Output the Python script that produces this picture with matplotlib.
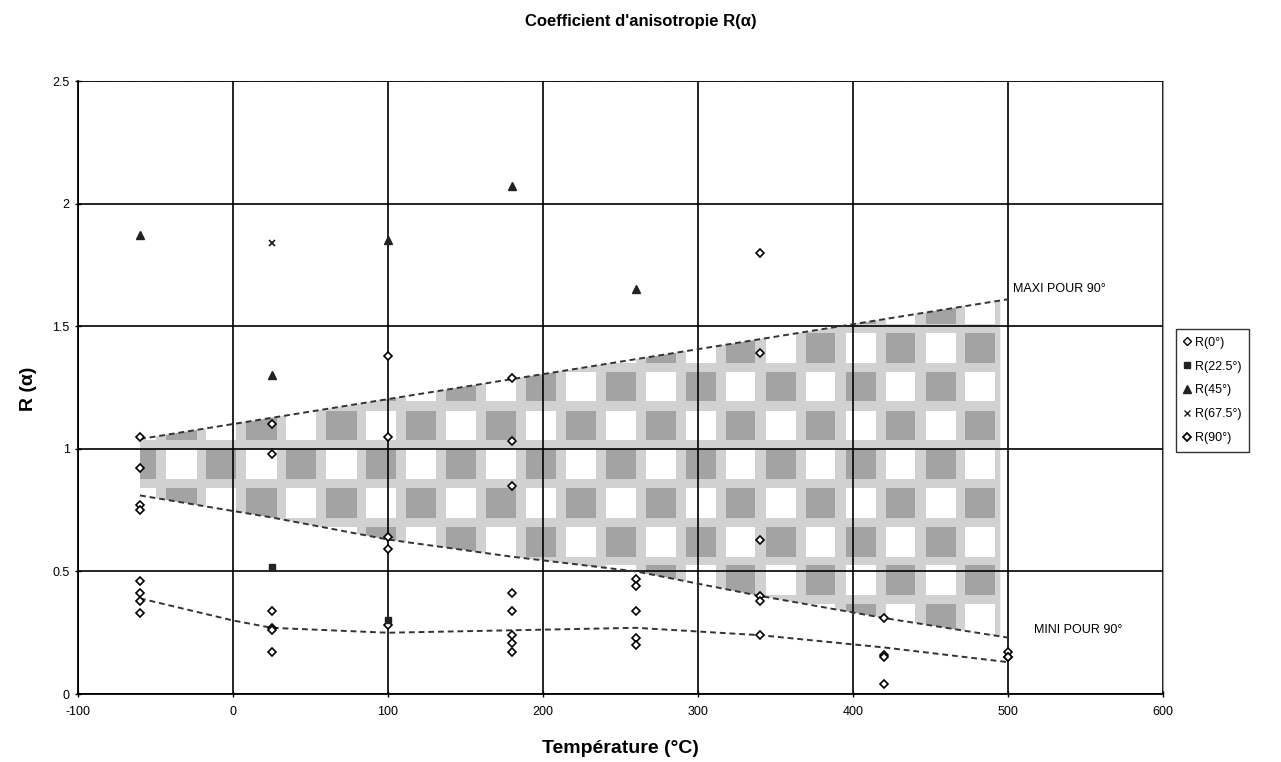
import numpy as np
import matplotlib
matplotlib.use("Agg")
import matplotlib.pyplot as plt
from matplotlib.patches import Polygon
from matplotlib.lines import Line2D

plt.rcParams['font.family'] = ['Liberation Sans', 'DejaVu Sans']
plt.rcParams['axes.unicode_minus'] = False

# ── DATA ────────────────────────────────────────────────────
R0_X  = [-60, -60, -60, -60, 25, 25, 25, 100, 180, 180, 180, 180,
         260, 260, 260, 260, 340, 340, 420, 420, 420, 500, 500]
R0_Y  = [0.46, 0.41, 0.38, 0.33, 0.34, 0.27, 0.17, 0.28, 0.41, 0.34, 0.24, 0.21,
         0.47, 0.44, 0.34, 0.23, 0.40, 0.24, 0.31, 0.16, 0.04, 0.17, 0.15]

R225_X = [25, 100]
R225_Y = [0.52, 0.30]

R45_X = [-60, 25, 100, 180, 260]
R45_Y = [1.87, 1.30, 1.85, 2.07, 1.65]

R675_X = [25]
R675_Y = [1.84]

R90_X = [-60, -60, -60, -60, 25, 25, 25, 100, 100, 100, 100, 180, 180, 180,
         180, 260, 340, 340, 340, 340, 420, 500]
R90_Y = [1.05, 0.92, 0.77, 0.75, 1.10, 0.98, 0.26, 1.38, 1.05, 0.64, 0.59, 1.29, 1.03, 0.85,
         0.17, 0.20, 1.80, 1.39, 0.63, 0.38, 0.15, 0.15]

# envelope curves drawn by hand on the original
MAXI_X = [-60, 500]
MAXI_Y = [1.04, 1.61]
LOWB_X = [-60, 25, 100, 180, 260, 340, 420, 500]
LOWB_Y = [0.81, 0.72, 0.63, 0.56, 0.50, 0.40, 0.31, 0.23]
MINI_X = [-60, 0, 25, 100, 180, 260, 340, 420, 500]
MINI_Y = [0.39, 0.30, 0.27, 0.25, 0.26, 0.27, 0.24, 0.19, 0.13]

BAND_END = 495

X_TICKS = [-100, 0, 100, 200, 300, 400, 500, 600]
Y_TICKS = [0, 0.5, 1, 1.5, 2, 2.5]
Y_TICK_LABELS = ["0", "0.5", "1", "1.5", "2", "2.5"]


# ── CHECKERED BAND IMAGE ────────────────────────────────────
def band_pattern(x0, x1, y0, y1, nx=900, ny=700):
    xs = np.linspace(x0, x1, nx)
    ys = np.linspace(y0, y1, ny)
    X, Y = np.meshgrid(xs, ys)
    wx, wy = 25.8, 0.158
    u = (X - 421.0) / wx
    v = (Y - 1.35) / wy
    i, j = np.floor(u), np.floor(v)
    fu, fv = u - i, v - j
    inner = (fu < 0.75) & (fv < 0.77)
    dark = ((i + j) % 2 == 0)
    img = np.ones(X.shape + (3,)) * 0.82          # light grey lattice
    img[inner & dark] = 0.64                       # dark squares
    img[inner & ~dark] = 1.0                       # white squares
    return img


# ── FIGURE ──────────────────────────────────────────────────
fig = plt.figure(figsize=(12.81, 7.62), dpi=100, facecolor="white")
ax = fig.add_axes([0.0609, 0.0892, 0.8470, 0.8045])
ax.set_xlim(-100, 600)
ax.set_ylim(0, 2.5)

# band polygon
low_end = np.interp(BAND_END, LOWB_X, LOWB_Y)
up_end = np.interp(BAND_END, MAXI_X, MAXI_Y)
poly_pts = [(MAXI_X[0], MAXI_Y[0]), (BAND_END, up_end), (BAND_END, low_end)]
for x, y in zip(LOWB_X[::-1], LOWB_Y[::-1]):
    if x <= BAND_END:
        poly_pts.append((x, y))
band_poly = Polygon(poly_pts, closed=True, facecolor="none", edgecolor="none",
                    transform=ax.transData)
ax.add_patch(band_poly)

img = band_pattern(-62, 497, 0.2, 1.65)
im = ax.imshow(img, extent=[-62, 497, 0.2, 1.65], origin="lower",
               aspect="auto", interpolation="nearest", zorder=1)
im.set_clip_path(band_poly)

# grid
ax.set_xticks(X_TICKS)
ax.set_yticks(Y_TICKS)
ax.set_yticklabels(Y_TICK_LABELS)
ax.grid(True, color="black", linewidth=1.2, zorder=2)
ax.set_axisbelow(False)
ax.tick_params(direction="inout", length=5, width=1, labelsize=9, colors="black")
ax.tick_params(axis="x", pad=6)

for side in ["left", "bottom"]:
    ax.spines[side].set_linewidth(1.3)
ax.spines["top"].set_linestyle(":")
ax.spines["top"].set_color("#777777")
ax.spines["right"].set_color("#999999")
ax.spines["right"].set_linewidth(0.8)

# envelope curves
dash_kw = dict(color="#333333", linewidth=1.4, linestyle=(0, (3, 2)), zorder=3)
ax.plot(MAXI_X, MAXI_Y, **dash_kw)
ax.plot(LOWB_X, LOWB_Y, **dash_kw)
ax.plot(MINI_X, MINI_Y, **dash_kw)

# series
open_kw = dict(linestyle="none", markerfacecolor="white", markeredgecolor="black",
               markeredgewidth=1.2, zorder=5)
ax.plot(R0_X, R0_Y, marker="D", markersize=4.5, **open_kw)
ax.plot(R90_X, R90_Y, marker="D", markersize=4.5, **open_kw)
ax.plot(R225_X, R225_Y, marker="s", markersize=5, linestyle="none",
        color="#222222", zorder=5)
ax.plot(R45_X, R45_Y, marker="^", markersize=6, linestyle="none",
        color="#222222", zorder=5)
ax.plot(R675_X, R675_Y, marker="x", markersize=4, markeredgewidth=1.3,
        linestyle="none", color="#222222", zorder=5)

# annotations
ax.text(503, 1.65, "MAXI POUR 90°", fontsize=9, va="center", ha="left")
ax.text(517, 0.26, "MINI POUR 90°", fontsize=9, va="center", ha="left")

# labels
fig.text(0.5, 0.972, "Coefficient d'anisotropie R(α)", ha="center", va="center",
         fontsize=12, fontweight="bold")
fig.text(0.484, 0.018, "Température (°C)", ha="center", va="center",
         fontsize=14, fontweight="bold")
fig.text(0.022, 0.49, "R (α)", ha="center", va="center", rotation=90,
         fontsize=14, fontweight="bold")

# legend
handles = [
    Line2D([], [], marker="D", markersize=4, markerfacecolor="white",
           markeredgecolor="black", linestyle="none", label="R(0°)"),
    Line2D([], [], marker="s", markersize=5, color="#222222",
           linestyle="none", label="R(22.5°)"),
    Line2D([], [], marker="^", markersize=5.5, color="#222222",
           linestyle="none", label="R(45°)"),
    Line2D([], [], marker="x", markersize=4, color="#222222",
           linestyle="none", label="R(67.5°)"),
    Line2D([], [], marker="D", markersize=4, markerfacecolor="white",
           markeredgecolor="black", markeredgewidth=1.3, linestyle="none",
           label="R(90°)"),
]
leg = fig.legend(handles=handles, loc="upper left", bbox_to_anchor=(0.918, 0.568),
                 fontsize=9, frameon=True, fancybox=False, edgecolor="black",
                 handlelength=0.6, handletextpad=0.3, labelspacing=0.95,
                 borderpad=0.6, borderaxespad=0)
leg.get_frame().set_linewidth(1.0)

fig.savefig("out.png", dpi=100, facecolor="white")
